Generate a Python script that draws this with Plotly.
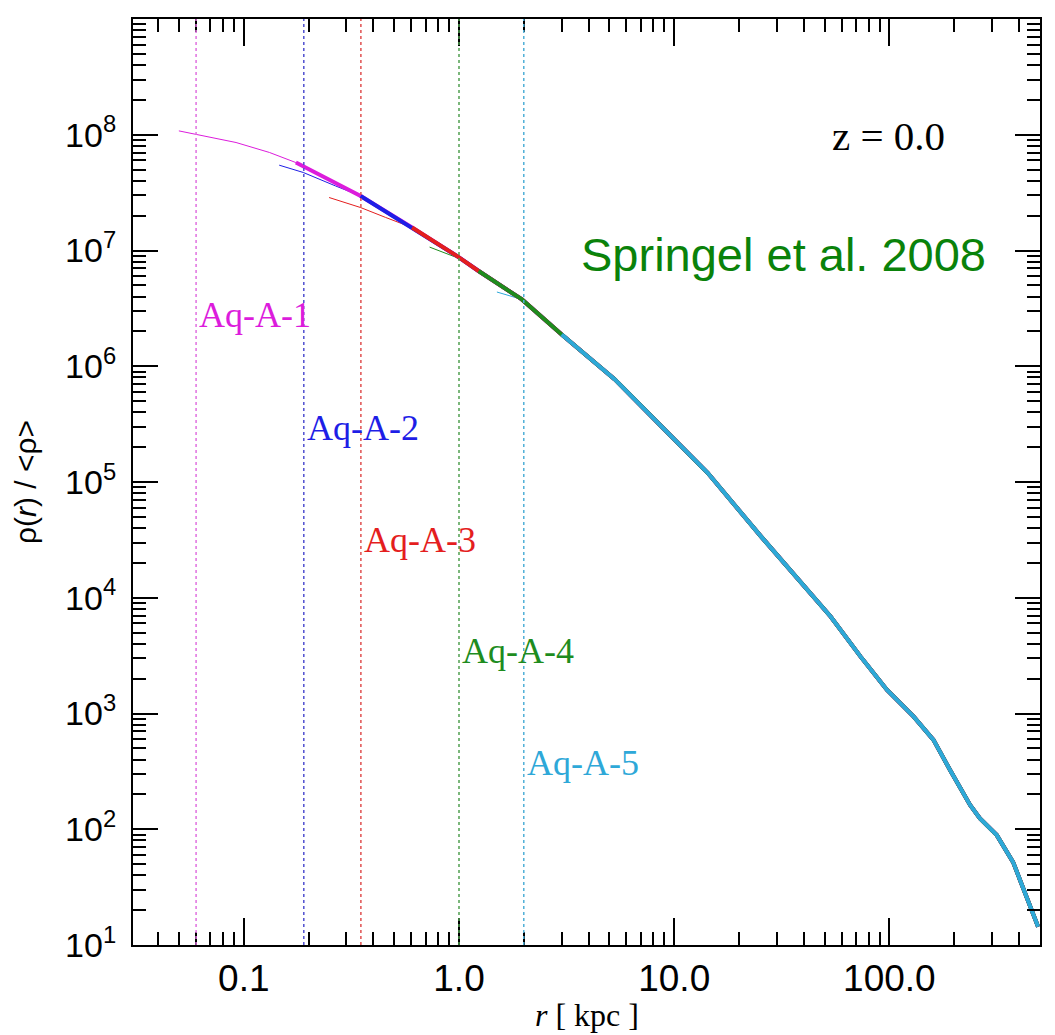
import math
import plotly.graph_objects as go

# ---------------- data ----------------
# shared converged outer profile (thick parts)
r_main = [0.1746, 0.349, 0.605, 0.98, 1.233, 1.96, 3.0, 5.3, 8.71, 14.3, 25.3, 37.4,
          53.3, 73.5, 97.5, 129.7, 160.3, 191.4, 213.3, 237.1, 263.6, 315.5, 375.8, 433.5, 491.0]
rho_main = [5.75e7, 2.96e7, 1.58e7, 8.95e6, 6.65e6, 3.78e6, 1.88e6, 7.69e5, 3.03e5, 1.20e5,
            3.39e4, 1.48e4, 6.89e3, 3.10e3, 1.60e3, 9.40e2, 5.92e2, 3.25e2, 2.33e2, 1.62e2,
            1.24e2, 8.9e1, 5.2e1, 2.6e1, 1.44e1]

names = ["Aq-A-1", "Aq-A-2", "Aq-A-3", "Aq-A-4", "Aq-A-5"]
colors = ["#DC1CDC", "#1E1EE6", "#E41E1E", "#1E8C1E", "#2EA8D8"]
dot_colors = ["#E070E0", "#5050D0", "#E05050", "#50A050", "#50B0D8"]

# thin (unconverged) inner segments
thin_r = [
    [0.0499, 0.0601, 0.092, 0.1315, 0.1746],
    [0.146, 0.189, 0.267, 0.349],
    [0.249, 0.349, 0.456, 0.605],
    [0.73, 0.98, 1.233],
    [1.5, 1.96, 3.0],
]
thin_rho = [
    [1.08e8, 1.01e8, 8.57e7, 7.03e7, 5.75e7],
    [5.46e7, 4.72e7, 3.61e7, 2.96e7],
    [2.87e7, 2.35e7, 1.93e7, 1.58e7],
    [1.07e7, 8.67e6, 6.65e6],
    [4.38e6, 3.78e6, 1.88e6],
]
# radius where each curve becomes thick
thick_start = [0.1746, 0.349, 0.605, 1.233, 3.0]
# convergence radii (dotted lines)
conv_r = [0.06, 0.19, 0.35, 1.0, 2.0]
# label heights
label_rho = [2.75e6, 2.95e5, 3.16e4, 3.47e3, 3.72e2]

x_tickvals = [0.1, 1, 10, 100]
x_ticktext = ["0.1", "1.0", "10.0", "100.0"]
y_exps = list(range(1, 10))

# ---------------- figure ----------------
fig = go.Figure()

for i in range(5):
    fig.add_trace(go.Scatter(x=thin_r[i], y=thin_rho[i], mode="lines",
                             line=dict(color=colors[i], width=1), showlegend=False,
                             hoverinfo="skip"))
for i in range(5):
    rr = [r for r in r_main if r >= thick_start[i]]
    yy = [y for r, y in zip(r_main, rho_main) if r >= thick_start[i]]
    fig.add_trace(go.Scatter(x=rr, y=yy, mode="lines",
                             line=dict(color=colors[i], width=4), showlegend=False,
                             name=names[i]))

for i in range(5):
    fig.add_shape(type="line", xref="x", yref="paper", x0=conv_r[i], x1=conv_r[i],
                  y0=0, y1=1, line=dict(color=dot_colors[i], width=1.5, dash="dot"))
    fig.add_annotation(x=math.log10(conv_r[i]), y=math.log10(label_rho[i]),
                       xref="x", yref="y", text=names[i], showarrow=False,
                       xanchor="left", yanchor="middle", xshift=1,
                       font=dict(family="Liberation Serif", size=36, color=colors[i]))

fig.add_annotation(x=0.897, y=0.874, xref="paper", yref="paper", text="z = 0.0",
                   showarrow=False, xanchor="right", yanchor="middle",
                   font=dict(family="Liberation Serif", size=41, color="black"))
fig.add_annotation(x=0.943, y=0.746, xref="paper", yref="paper",
                   text="Springel et al. 2008", showarrow=False,
                   xanchor="right", yanchor="middle",
                   font=dict(family="Liberation Sans", size=47, color="#0A820A"))
# x-axis title
fig.add_annotation(x=0.5, y=-0.0756, xref="paper", yref="paper",
                   text="<i>r</i> [ kpc ]", showarrow=False,
                   xanchor="center", yanchor="middle",
                   font=dict(family="Liberation Serif", size=32, color="black"))

minor_x = [m * 10 ** e for e in range(-2, 3) for m in range(2, 10)]
minor_y = [m * 10 ** e for e in range(1, 9) for m in range(2, 10)]

fig.update_xaxes(type="log", range=[-1.515, 2.70],
                 tickvals=x_tickvals, ticktext=x_ticktext,
                 ticks="inside", ticklen=27, tickwidth=2, tickcolor="black",
                 showline=True, linecolor="black", linewidth=2, mirror="allticks",
                 showgrid=False, zeroline=False,
                 minor=dict(tickvals=minor_x, ticks="inside", ticklen=13,
                            tickwidth=2, tickcolor="black", showgrid=False),
                 tickfont=dict(family="Liberation Sans", size=37, color="black"),
                 ticklabelstandoff=0)
fig.update_yaxes(type="log", range=[1, 9],
                 tickvals=[10 ** e for e in y_exps],
                 ticktext=["10<sup>%d</sup>" % e for e in y_exps],
                 ticks="inside", ticklen=25, tickwidth=2, tickcolor="black",
                 showline=True, linecolor="black", linewidth=2, mirror="allticks",
                 showgrid=False, zeroline=False,
                 minor=dict(tickvals=minor_y, ticks="inside", ticklen=13,
                            tickwidth=2, tickcolor="black", showgrid=False),
                 tickfont=dict(family="Liberation Sans", size=34, color="black"),
                 ticklabelstandoff=8,
                 title=dict(text="ρ(<i>r</i>) / &lt;ρ&gt;", standoff=20,
                            font=dict(family="Liberation Sans", size=30, color="black")))

fig.update_layout(width=1055, height=1035,
                  margin=dict(l=133, r=15, t=19, b=90, autoexpand=False),
                  plot_bgcolor="white", paper_bgcolor="white", showlegend=False)

fig.write_html("out.html")
